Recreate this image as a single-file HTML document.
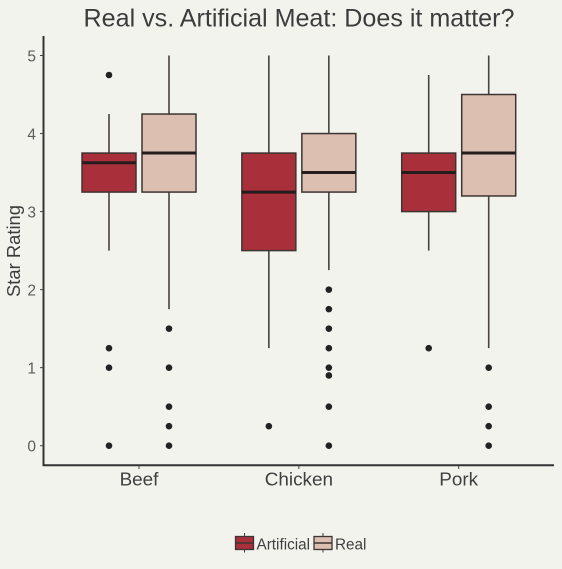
<!DOCTYPE html>
<html>
<head>
<meta charset="utf-8">
<title>Real vs. Artificial Meat</title>
<style>
html,body{margin:0;padding:0;background:#f3f3ee;}
svg{display:block;font-family:"Liberation Sans",sans-serif;}
</style>
</head>
<body>
<svg id="chart" width="562" height="569" viewBox="0 0 562 569" xmlns="http://www.w3.org/2000/svg">
<rect x="0" y="0" width="562" height="569" fill="#f3f3ee"/>
<text x="299" y="26.5" text-anchor="middle" font-size="25.1" fill="#3c3c3c">Real vs. Artificial Meat: Does it matter?</text>
<text transform="translate(20,251) rotate(-90)" text-anchor="middle" font-size="18.4" fill="#3c3c3c">Star Rating</text>
<g id="marks"></g>
<g id="axes"></g>
<g id="legend"></g>
</svg>
<script>
const categories = ["Beef", "Chicken", "Pork"];
const seriesNames = ["Artificial", "Real"];
const yTicks = [0, 1, 2, 3, 4, 5];
const artificialLow = [2.5, 1.25, 2.5];
const artificialQ1 = [3.25, 2.5, 3];
const artificialMedian = [3.625, 3.25, 3.5];
const artificialQ3 = [3.75, 3.75, 3.75];
const artificialHigh = [4.25, 5, 4.75];
const artificialOutliers = [[4.75, 1.25, 1, 0], [0.25], [1.25]];
const realLow = [1.75, 2.25, 1.25];
const realQ1 = [3.25, 3.25, 3.2];
const realMedian = [3.75, 3.5, 3.75];
const realQ3 = [4.25, 4, 4.5];
const realHigh = [5, 5, 5];
const realOutliers = [[1.5, 1, 0.5, 0.25, 0], [2, 1.75, 1.5, 1.25, 1, 0.9, 0.5, 0], [1, 0.5, 0.25, 0]];

const NS = "http://www.w3.org/2000/svg";
const LINE = "#3d3533";
const FILLS = ["#a92f3b", "#ddbfb2"];
function yPos(v) { return 445.7 - v * 78.04; }
function xPos(i) { return 139 + i * 159.85; }
function add(parent, tag, attrs, text) {
  const el = document.createElementNS(NS, tag);
  for (const k in attrs) el.setAttribute(k, attrs[k]);
  if (text !== undefined) el.textContent = text;
  parent.appendChild(el);
  return el;
}
const marks = document.getElementById("marks");
const axes = document.getElementById("axes");
const legend = document.getElementById("legend");

function drawBox(catIndex, serIndex, low, q1, med, q3, high, outliers) {
  const cx = xPos(catIndex) + (serIndex === 0 ? -30 : 30);
  const halfW = 27;
  const label = categories[catIndex].toLowerCase() + "-" + seriesNames[serIndex].toLowerCase();
  const g = add(marks, "g", {});
  
  
  const w1 = add(g, "line", { x1: cx, x2: cx, y1: yPos(q3), y2: yPos(high), stroke: "#484240", "stroke-width": 1.6 });
  
  
  const w2 = add(g, "line", { x1: cx, x2: cx, y1: yPos(q1), y2: yPos(low), stroke: "#484240", "stroke-width": 1.6 });
  
  
  const r = add(g, "rect", { x: cx - halfW, y: yPos(q3), width: halfW * 2, height: yPos(q1) - yPos(q3), fill: FILLS[serIndex], stroke: LINE, "stroke-width": 1.5 });
  
  
  const m = add(g, "line", { x1: cx - halfW, x2: cx + halfW, y1: yPos(med), y2: yPos(med), stroke: "#251c1e", "stroke-width": 3 });
  
  
  outliers.forEach(function (v) {
    const c = add(g, "circle", { cx: cx, cy: yPos(v), r: 3.3, fill: "#222222" });
    
    
  });
}
categories.forEach(function (cat, i) {
  drawBox(i, 0, artificialLow[i], artificialQ1[i], artificialMedian[i], artificialQ3[i], artificialHigh[i], artificialOutliers[i]);
  drawBox(i, 1, realLow[i], realQ1[i], realMedian[i], realQ3[i], realHigh[i], realOutliers[i]);
});

const yAxis = add(axes, "line", { x1: 43.5, x2: 43.5, y1: 36, y2: 466, stroke: "#333333", "stroke-width": 2 });


const xAxis = add(axes, "line", { x1: 42.5, x2: 554, y1: 465.2, y2: 465.2, stroke: "#333333", "stroke-width": 2 });



yTicks.forEach(function (t) {
  const tk = add(axes, "line", { x1: 40, x2: 43, y1: yPos(t), y2: yPos(t), stroke: "#444444", "stroke-width": 1 });
  
  
  const lb = add(axes, "text", { x: 36, y: yPos(t) + 6, "text-anchor": "end", "font-size": 15.5, fill: "#5c5c5c" }, String(t));
  
  
});
categories.forEach(function (cat, i) {
  const x = xPos(i);
  const tk = add(axes, "line", { x1: x, x2: x, y1: 466, y2: 469, stroke: "#444444", "stroke-width": 1 });
  
  
  const lb = add(axes, "text", { x: x, y: 485.7, "text-anchor": "middle", "font-size": 18.9, fill: "#3f3f3f" }, cat);
  
  
});

const legendKeyX = [235.5, 314];
const legendTextX = [256.5, 335];
seriesNames.forEach(function (name, i) {
  const g = add(legend, "g", {});
  
  
  const x = legendKeyX[i];
  const cx = x + 9;
  add(g, "line", { x1: cx, x2: cx, y1: 533, y2: 552.5, stroke: LINE, "stroke-width": 1 });
  add(g, "rect", { x: x, y: 536.5, width: 18, height: 13, fill: FILLS[i], stroke: LINE, "stroke-width": 1.3 });
  add(g, "line", { x1: x, x2: x + 18, y1: 543, y2: 543, stroke: LINE, "stroke-width": 1.5 });
  const t = add(g, "text", { x: legendTextX[i], y: 549.5, "font-size": 15.3, fill: "#3f3f3f" }, name);
  
  
});
</script>
</body>
</html>
